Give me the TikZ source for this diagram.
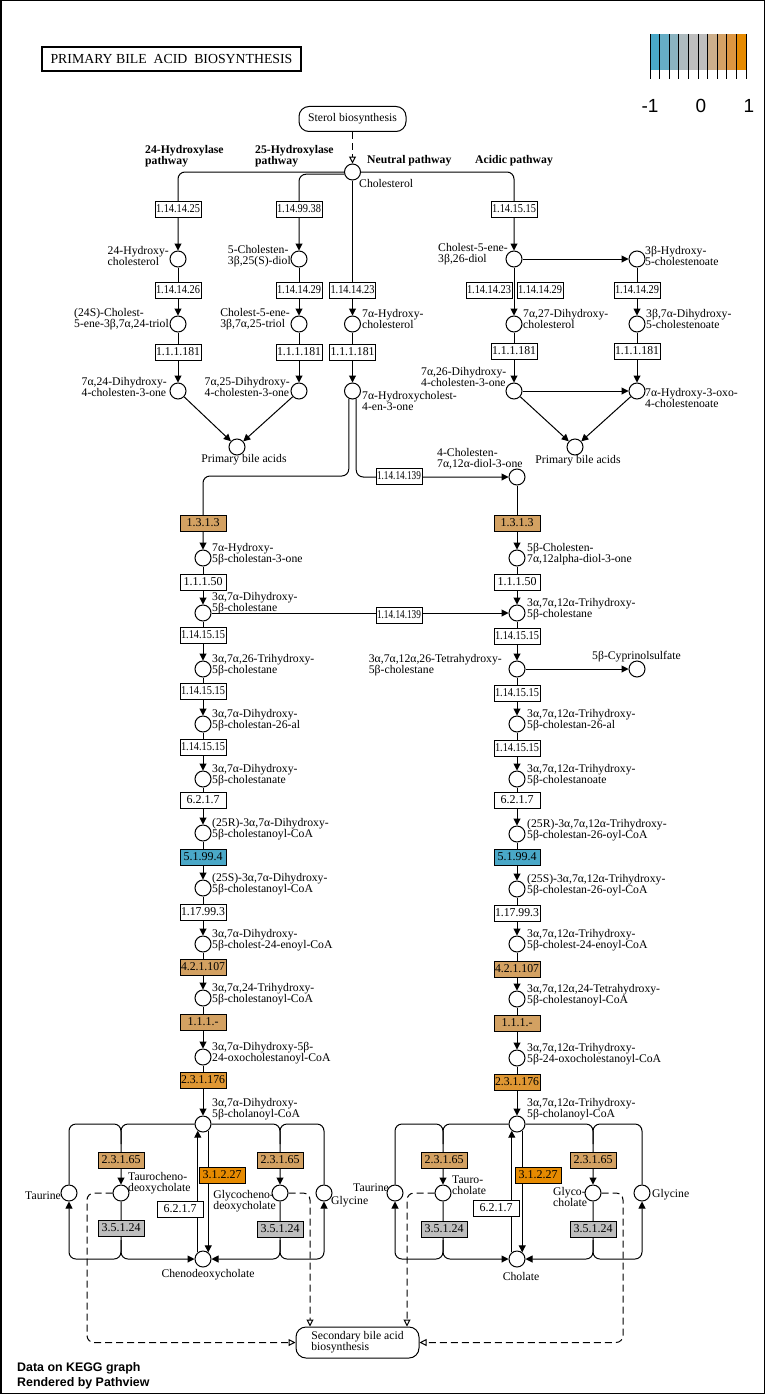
\documentclass[tikz,border=0pt]{standalone}
\usepackage{fontspec}
\usepackage{graphicx}
\setmainfont{Liberation Serif}
\newfontfamily\lsans{Liberation Sans}
\usetikzlibrary{arrows.meta}
\pgfdeclarelayer{bg}
\pgfsetlayers{bg,main}
\definecolor{ectan}{HTML}{D3A162}
\definecolor{ecor}{HTML}{DF9733}
\definecolor{ecorg}{HTML}{E68A00}
\definecolor{ecblue}{HTML}{4AA8C8}
\definecolor{ecgray}{HTML}{BEBEBE}
\newsavebox\ecbox
\newcommand{\ecn}[1]{\sbox\ecbox{#1}\ifdim\wd\ecbox>44pt\resizebox{44pt}{\ht\ecbox}{#1}\else\usebox\ecbox\fi}
\begin{document}
\begin{tikzpicture}[x=1pt,y=-1pt,
 cpd/.style={circle,draw,line width=1pt,minimum size=16pt,inner sep=0pt,fill=white},
 enz/.style={draw,line width=1pt,minimum width=46pt,minimum height=16pt,inner sep=0pt,fill=white,font=\fontsize{12}{12}\selectfont},
 lbl/.style={inner sep=0pt,align=left,font=\fontsize{11.7}{11}\selectfont},
 lblb/.style={inner sep=0pt,align=left,font=\fontsize{11.7}{11}\selectfont\bfseries},
 conn/.style={line width=1pt},
 arr/.style={conn,-{Triangle[length=7pt,width=7pt]}},
 dsh/.style={conn,dash pattern=on 7pt off 4pt,-{Triangle[open,length=7pt,width=7pt]}},
 rc/.style={rounded corners=7pt}]
\useasboundingbox (0,0) rectangle (765,1394);
\begin{pgfonlayer}{bg}
\fill[white] (0,0) rectangle (765,1394);
\end{pgfonlayer}
\draw[line width=1.5pt] (0.75,0.75) rectangle (764.25,1393.25);

% title
\node[draw,line width=2pt,minimum width=259pt,minimum height=24pt,inner sep=0pt,font=\fontsize{13.8}{14}\selectfont] (title) at (171.5,59) {PRIMARY BILE\ \ ACID\ \ BIOSYNTHESIS};

% legend
\foreach \c [count=\i from 0] in {4AA8C8,66ADC5,8BB4C1,AEBBBF,BEBEBE,BEBEBE,CDAF8B,D5A265,DD9641,E68A00} {
  \definecolor{lg}{HTML}{\c}
  \fill[lg] (650+\i*9.6,34) rectangle (659.6+\i*9.6,70);
}
\foreach \i in {0,...,10} \draw[line width=0.8pt] (650+\i*9.6,34) -- (650+\i*9.6,79);
\node[font=\lsans\fontsize{19}{19}\selectfont,inner sep=0pt] (lgm) at (650,106) {-1};
\node[font=\lsans\fontsize{19}{19}\selectfont,inner sep=0pt] (lg0) at (701,106) {0};
\node[font=\lsans\fontsize{19}{19}\selectfont,inner sep=0pt] (lg1) at (749,106) {1};

% footer
\node[inner sep=0pt,align=left,anchor=north west,font=\lsans\bfseries\fontsize{12.4}{15}\selectfont] (foot) at (17,1362) {Data on KEGG graph\\Rendered by Pathview};

% top
\node[draw,line width=1pt,rounded corners=10pt,minimum width=107pt,minimum height=25pt,inner sep=0pt,font=\fontsize{11.7}{11}\selectfont] (sterol) at (352.5,119) {Sterol biosynthesis};
\node[cpd] (chol) at (352.5,172) {};
\node[lbl,anchor=west] (tchol) at (359,183) {Cholesterol};
\node[lblb,anchor=west] (p24) at (145,156.5) {24-Hydroxylase\\pathway};
\node[lblb,anchor=west] (p25) at (255,156.5) {25-Hydroxylase\\pathway};
\node[lblb,anchor=west] (pneu) at (367,161) {Neutral pathway};
\node[lblb,anchor=west] (pacid) at (475,161) {Acidic pathway};

\node[cpd] (c24) at (178,259) {};
\node[cpd] (c25) at (299,259) {};
\node[cpd] (c26) at (514,259) {};
\node[cpd] (c3b) at (637,259) {};
\node[cpd] (c24t) at (178,324) {};
\node[cpd] (c25t) at (299,324) {};
\node[cpd] (c7a) at (352.5,324) {};
\node[cpd] (c27) at (514,324) {};
\node[cpd] (c3b7) at (637,324) {};
\node[cpd] (c24o) at (178,391) {};
\node[cpd] (c25o) at (299,391) {};
\node[cpd] (c7a4) at (352.5,391) {};
\node[cpd] (c26o) at (514,391) {};
\node[cpd] (c3ox) at (637,391) {};
\node[cpd] (pbaL) at (237,447) {};
\node[cpd] (pbaR) at (575,447) {};

\node[lbl,anchor=east] (t24) at (169,256) {24-Hydroxy-\\cholesterol};
\node[lbl,anchor=east] (t25) at (291,256) {5-Cholesten-\\3β,25(S)-diol};
\node[lbl,anchor=east] (t24t) at (169,319) {(24S)-Cholest-\\5-ene-3β,7α,24-triol};
\node[lbl,anchor=east] (t25t) at (290,319) {Cholest-5-ene-\\3β,7α,25-triol};
\node[lbl,anchor=east] (t24o) at (167,387) {7α,24-Dihydroxy-\\4-cholesten-3-one};
\node[lbl,anchor=east] (t25o) at (290,387) {7α,25-Dihydroxy-\\4-cholesten-3-one};
\node[lbl,anchor=west] (t7a) at (362,319) {7α-Hydroxy-\\cholesterol};
\node[lbl,anchor=west] (t7a4) at (362,401) {7α-Hydroxycholest-\\4-en-3-one};
\node[lbl,anchor=west] (t26) at (438,254.5) {Cholest-5-ene-\\3β,26-diol};
\node[lbl,anchor=west] (t3b) at (645,256) {3β-Hydroxy-\\5-cholestenoate};
\node[lbl,anchor=west] (t27) at (523,319) {7α,27-Dihydroxy-\\cholesterol};
\node[lbl,anchor=west] (t3b7) at (646,319) {3β,7α-Dihydroxy-\\5-cholestenoate};
\node[lbl,anchor=west] (t26o) at (421,377) {7α,26-Dihydroxy-\\4-cholesten-3-one};
\node[lbl,anchor=west] (t3ox) at (645,397.5) {7α-Hydroxy-3-oxo-\\4-cholestenoate};
\node[lbl] (tpbaL) at (244,460) {Primary bile acids};
\node[lbl] (tpbaR) at (578,461) {Primary bile acids};

\node[enz] (e1) at (178,209) {\ecn{1.14.14.25}};
\node[enz] (e2) at (299,209) {\ecn{1.14.99.38}};
\node[enz] (e3) at (514,209) {\ecn{1.14.15.15}};
\node[enz] (e4) at (178,290) {\ecn{1.14.14.26}};
\node[enz] (e5) at (299,290) {\ecn{1.14.14.29}};
\node[enz] (e6) at (352.5,290) {\ecn{1.14.14.23}};
\node[enz] (e7) at (489,290) {\ecn{1.14.14.23}};
\node[enz] (e8) at (540,290) {\ecn{1.14.14.29}};
\node[enz] (e9) at (637,290) {\ecn{1.14.14.29}};
\node[enz] (e10) at (178,352) {\ecn{1.1.1.181}};
\node[enz] (e11) at (299,352) {\ecn{1.1.1.181}};
\node[enz] (e12) at (352.5,352) {\ecn{1.1.1.181}};
\node[enz] (e13) at (514,351) {\ecn{1.1.1.181}};
\node[enz] (e14) at (637,351) {\ecn{1.1.1.181}};

% middle
\node[cpd] (R0) at (517,477) {};
\node[lbl,anchor=west] (tR0) at (437,458.5) {4-Cholesten-\\7α,12α-diol-3-one};
\node[enz] (e15) at (399,476) {\ecn{1.14.14.139}};
\coordinate (jL) at (203,476);

\foreach \n/\y in {L1/558,L2/613,L3/669,L4/724,L5/779,L6/833,L7/888,L8/944,L9/998,L10/1057,L11/1124}
  \node[cpd] (\n) at (203,\y) {};
\foreach \n/\y in {R1/558,R2/613,R3/669,R4/724,R5/779,R6/834,R7/889,R8/944,R9/999,R10/1058,R11/1124}
  \node[cpd] (\n) at (517,\y) {};

\node[enz,fill=ectan] (eL1) at (203,523) {1.3.1.3};
\node[enz] (eL2) at (203,582) {1.1.1.50};
\node[enz] (eL3) at (203,635) {\ecn{1.14.15.15}};
\node[enz] (eL4) at (203,691) {\ecn{1.14.15.15}};
\node[enz] (eL5) at (203,747) {\ecn{1.14.15.15}};
\node[enz] (eL6) at (203,800) {6.2.1.7};
\node[enz,fill=ecblue] (eL7) at (203,857) {5.1.99.4};
\node[enz] (eL8) at (203,912) {\ecn{1.17.99.3}};
\node[enz,fill=ectan] (eL9) at (203,967) {\ecn{4.2.1.107}};
\node[enz,fill=ectan] (eL10) at (203,1022) {1.1.1.-};
\node[enz,fill=ecor] (eL11) at (203,1080) {\ecn{2.3.1.176}};

\node[enz,fill=ectan] (eR1) at (517,523) {1.3.1.3};
\node[enz] (eR2) at (517,582) {1.1.1.50};
\node[enz] (eR3) at (517,636) {\ecn{1.14.15.15}};
\node[enz] (eR4) at (517,693) {\ecn{1.14.15.15}};
\node[enz] (eR5) at (517,748) {\ecn{1.14.15.15}};
\node[enz] (eR6) at (517,800) {6.2.1.7};
\node[enz,fill=ecblue] (eR7) at (517,857) {5.1.99.4};
\node[enz] (eR8) at (517,913) {\ecn{1.17.99.3}};
\node[enz,fill=ectan] (eR9) at (517,969) {\ecn{4.2.1.107}};
\node[enz,fill=ectan] (eR10) at (517,1023) {1.1.1.-};
\node[enz,fill=ecor] (eR11) at (517,1082) {\ecn{2.3.1.176}};

\node[enz] (e16) at (399,615) {\ecn{1.14.14.139}};
\node[cpd] (cyp) at (637,669) {};
\node[lbl,anchor=west] (tcyp) at (592,657) {5β-Cyprinolsulfate};

\node[lbl,anchor=west] (tL1) at (212,554) {7α-Hydroxy-\\5β-cholestan-3-one};
\node[lbl,anchor=west] (tL2) at (212,603.5) {3α,7α-Dihydroxy-\\5β-cholestane};
\node[lbl,anchor=west] (tL3) at (212,665.5) {3α,7α,26-Trihydroxy-\\5β-cholestane};
\node[lbl,anchor=west] (tL4) at (212,720.5) {3α,7α-Dihydroxy-\\5β-cholestan-26-al};
\node[lbl,anchor=west] (tL5) at (212,775.5) {3α,7α-Dihydroxy-\\5β-cholestanate};
\node[lbl,anchor=west] (tL6) at (212,829.5) {(25R)-3α,7α-Dihydroxy-\\5β-cholestanoyl-CoA};
\node[lbl,anchor=west] (tL7) at (212,884.5) {(25S)-3α,7α-Dihydroxy-\\5β-cholestanoyl-CoA};
\node[lbl,anchor=west] (tL8) at (212,940.5) {3α,7α-Dihydroxy-\\5β-cholest-24-enoyl-CoA};
\node[lbl,anchor=west] (tL9) at (212,994.5) {3α,7α,24-Trihydroxy-\\5β-cholestanoyl-CoA};
\node[lbl,anchor=west] (tL10) at (212,1053.5) {3α,7α-Dihydroxy-5β-\\24-oxocholestanoyl-CoA};
\node[lbl,anchor=west] (tL11) at (212,1109.5) {3α,7α-Dihydroxy-\\5β-cholanoyl-CoA};

\node[lbl,anchor=west] (tR1) at (527,554) {5β-Cholesten-\\7α,12alpha-diol-3-one};
\node[lbl,anchor=west] (tR2) at (527,609.5) {3α,7α,12α-Trihydroxy-\\5β-cholestane};
\node[lbl,anchor=east] (tR3) at (502,665.5) {3α,7α,12α,26-Tetrahydroxy-\\5β-cholestane};
\node[lbl,anchor=west] (tR4) at (527,720.5) {3α,7α,12α-Trihydroxy-\\5β-cholestan-26-al};
\node[lbl,anchor=west] (tR5) at (527,775.5) {3α,7α,12α-Trihydroxy-\\5β-cholestanoate};
\node[lbl,anchor=west] (tR6) at (527,830.5) {(25R)-3α,7α,12α-Trihydroxy-\\5β-cholestan-26-oyl-CoA};
\node[lbl,anchor=west] (tR7) at (527,885.5) {(25S)-3α,7α,12α-Trihydroxy-\\5β-cholestan-26-oyl-CoA};
\node[lbl,anchor=west] (tR8) at (527,940.5) {3α,7α,12α-Trihydroxy-\\5β-cholest-24-enoyl-CoA};
\node[lbl,anchor=west] (tR9) at (527,995.5) {3α,7α,12α,24-Tetrahydroxy-\\5β-cholestanoyl-CoA};
\node[lbl,anchor=west] (tR10) at (527,1054.5) {3α,7α,12α-Trihydroxy-\\5β-24-oxocholestanoyl-CoA};
\node[lbl,anchor=west] (tR11) at (527,1109.5) {3α,7α,12α-Trihydroxy-\\5β-cholanoyl-CoA};

% bottom left
\node[cpd] (cheno) at (203,1259) {};
\node[cpd] (taurL) at (69,1193) {};
\node[cpd] (tch) at (121,1193) {};
\node[cpd] (gch) at (280,1193) {};
\node[cpd] (glyL) at (324,1193) {};
\node[enz,fill=ectan] (b1) at (121,1160) {\ecn{2.3.1.65}};
\node[enz,fill=ecgray] (b2) at (121,1228) {\ecn{3.5.1.24}};
\node[enz,fill=ectan] (b3) at (280,1160) {\ecn{2.3.1.65}};
\node[enz,fill=ecgray] (b4) at (280,1229) {\ecn{3.5.1.24}};
\node[enz,fill=ecorg] (b5) at (222,1175) {\ecn{3.1.2.27}};
\node[enz] (b6) at (180,1209) {6.2.1.7};
\node[lbl,anchor=east] (ttaurL) at (61,1196) {Taurine};
\node[lbl,anchor=west] (ttch) at (128,1183.5) {Taurocheno-\\deoxycholate};
\node[lbl,anchor=east] (tgch) at (276,1201) {Glycocheno-\\deoxycholate};
\node[lbl,anchor=west] (tglyL) at (331,1202) {Glycine};
\node[lbl] (tcheno) at (208,1275) {Chenodeoxycholate};

% bottom right
\node[cpd] (chl) at (517,1259) {};
\node[cpd] (taurR) at (395,1193) {};
\node[cpd] (tc) at (443,1193) {};
\node[cpd] (gc) at (593,1193) {};
\node[cpd] (glyR) at (642,1193) {};
\node[enz,fill=ectan] (b7) at (444,1160) {\ecn{2.3.1.65}};
\node[enz,fill=ecgray] (b8) at (444,1229) {\ecn{3.5.1.24}};
\node[enz,fill=ectan] (b9) at (593,1160) {\ecn{2.3.1.65}};
\node[enz,fill=ecgray] (b10) at (593,1229) {\ecn{3.5.1.24}};
\node[enz,fill=ecorg] (b11) at (538,1175) {\ecn{3.1.2.27}};
\node[enz] (b12) at (496,1208) {6.2.1.7};
\node[lbl,anchor=east] (ttaurR) at (389,1188) {Taurine};
\node[lbl,anchor=west] (ttc) at (452,1185.5) {Tauro-\\cholate};
\node[lbl,anchor=west] (tgc) at (553,1196.5) {Glyco-\\cholate};
\node[lbl,anchor=west] (tglyR) at (652,1195) {Glycine};
\node[lbl] (tchl) at (521,1276) {Cholate};

\node[draw,line width=1pt,rounded corners=10pt,minimum width=123pt,minimum height=31pt,inner sep=0pt,align=left,font=\fontsize{11.7}{11}\selectfont] (sec) at (357.5,1342.5) {Secondary bile acid\\biosynthesis};

\coordinate (tl1) at (121,1124);
\coordinate (tr1) at (280,1124);
\coordinate (bl1) at (121,1240);
\coordinate (bl2) at (69,1259);
\coordinate (bl3) at (280,1240);
\coordinate (bl4) at (324,1259);
\coordinate (rt1) at (443,1124);
\coordinate (rt2) at (593,1124);
\coordinate (rb1) at (443,1240);
\coordinate (rb2) at (395,1259);
\coordinate (rb3) at (593,1240);
\coordinate (rb4) at (642,1259);
\coordinate (dl) at (87,1342.5);
\coordinate (dr) at (623,1342.5);

\begin{pgfonlayer}{bg}
\draw[dsh] (sterol.south) -- (chol.north);
\draw[arr,rc] (chol.west) -| (c24.north);
\draw[arr,rc] (chol.195) -| (c25.north);
\draw[arr,rc] (chol.east) -| (c26.north);
\draw[arr] (chol) -- (c7a);
\draw[arr] (c24) -- (c24t);
\draw[arr] (c24t) -- (c24o);
\draw[arr] (c25) -- (c25t);
\draw[arr] (c25t) -- (c25o);
\draw[arr] (c7a) -- (c7a4);
\draw[arr] (c26) -- (c27);
\draw[arr] (c27) -- (c26o);
\draw[arr] (c3b) -- (c3b7);
\draw[arr] (c3b7) -- (c3ox);
\draw[arr] (c26) -- (c3b);
\draw[arr] (c26o) -- (c3ox);
\draw[arr] (c24o) -- (pbaL);
\draw[arr] (c25o) -- (pbaL);
\draw[arr] (c26o) -- (pbaR);
\draw[arr] (c3ox) -- (pbaR);
\draw[arr,rc] (c7a4.-116) |- (jL) -- (L1);
\draw[arr,rc] (c7a4.-64) |- (R0.west);
\draw[arr] (R0) -- (R1);
\foreach \a/\b in {L1/L2,L2/L3,L3/L4,L4/L5,L5/L6,L6/L7,L7/L8,L8/L9,L9/L10,L10/L11,R1/R2,R2/R3,R3/R4,R4/R5,R5/R6,R6/R7,R7/R8,R8/R9,R9/R10,R10/R11}
  \draw[arr] (\a) -- (\b);
\draw[arr] (L2) -- (R2);
\draw[arr] (R3) -- (cyp);
% bottom left
\draw[arr,rc] (L11.west) -| (tch.north);
\draw[conn,rc] (taurL.north) |- (tl1) -- ++(0,20);
\draw[arr,rc] (L11.east) -| (gch.north);
\draw[conn,rc] (glyL.north) |- (tr1) -- ++(0,20);
\draw[arr,rc] (tch.south) |- (cheno.west);
\draw[arr,rc] (bl1) |- (bl2) -- (taurL.south);
\draw[arr,rc] (gch.south) |- (cheno.east);
\draw[arr,rc] (bl3) |- (bl4) -- (glyL.south);
\draw[arr] (L11.-52) -- (cheno.52);
\draw[arr] (cheno.128) -- (L11.-128);
% bottom right
\draw[arr,rc] (R11.west) -| (tc.north);
\draw[conn,rc] (taurR.north) |- (rt1) -- ++(0,20);
\draw[arr,rc] (R11.east) -| (gc.north);
\draw[conn,rc] (glyR.north) |- (rt2) -- ++(0,20);
\draw[arr,rc] (tc.south) |- (chl.west);
\draw[arr,rc] (rb1) |- (rb2) -- (taurR.south);
\draw[arr,rc] (gc.south) |- (chl.east);
\draw[arr,rc] (rb3) |- (rb4) -- (glyR.south);
\draw[arr] (R11.-52) -- (chl.52);
\draw[arr] (chl.128) -- (R11.-128);
% dashed to secondary
\draw[dsh,rc] (tch.west) -| (dl) -- (sec.west);
\draw[dsh,rc] (gch.east) -| ([xshift=-47.5pt]sec.north);
\draw[dsh,rc] (tc.west) -| ([xshift=49.5pt]sec.north);
\draw[dsh,rc] (gc.east) -| (dr) -- (sec.east);
\end{pgfonlayer}
\end{tikzpicture}
\end{document}
